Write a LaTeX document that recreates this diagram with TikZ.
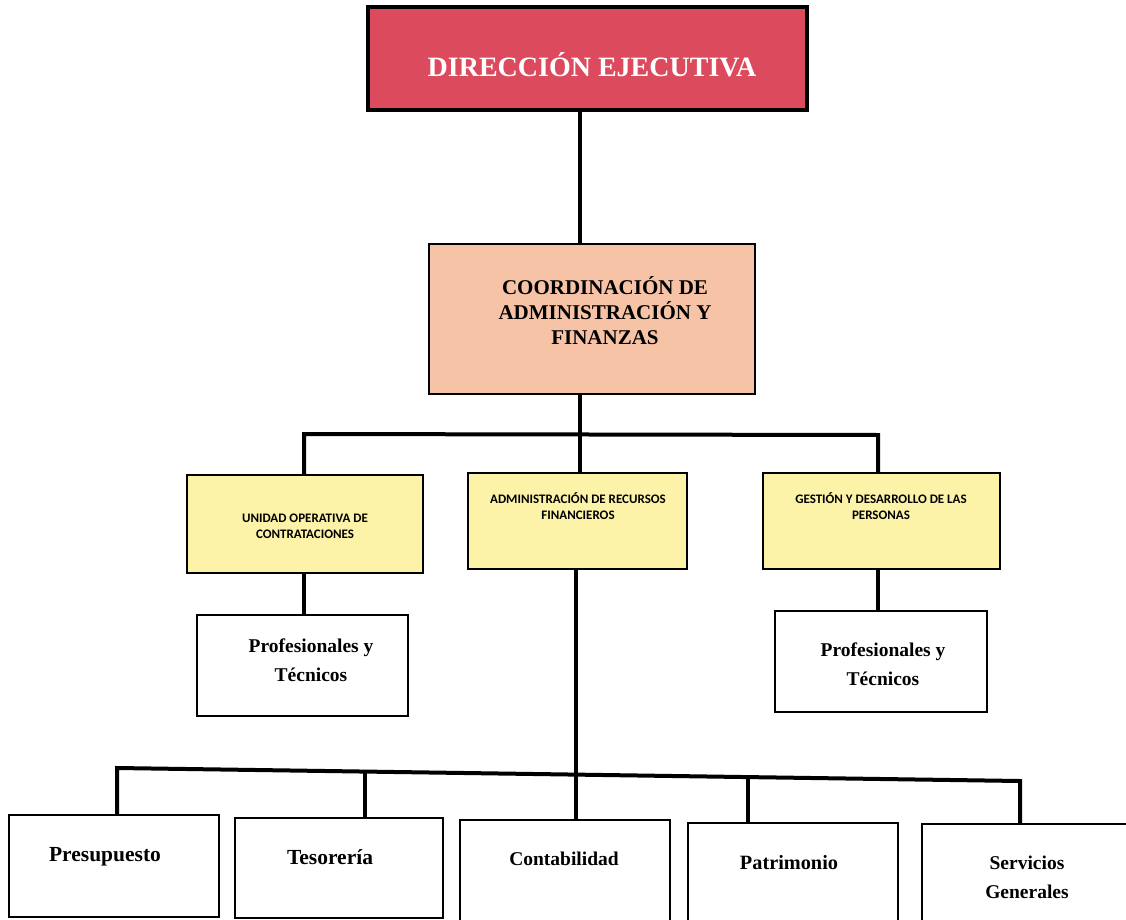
\documentclass[tikz,border=0pt]{standalone}
\usepackage{fontspec}
\setmainfont{Liberation Serif}
\newfontfamily\calfont{Carlito}
\definecolor{dirred}{HTML}{DC4A5E}
\definecolor{peach}{HTML}{F7C3A6}
\definecolor{paleyellow}{HTML}{FCF2A8}
\begin{document}
\begin{tikzpicture}[x=1pt,y=-1pt,
  box/.style={draw=black, line width=2.2pt, inner sep=0pt, rectangle},
  conn/.style={draw=black, line width=4pt, line join=miter},
  serlbl/.style={font=\bfseries\fontsize{19.5}{29}\selectfont, align=center, inner sep=0pt},
  biglbl/.style={font=\bfseries\fontsize{21.5}{29}\selectfont, align=center, inner sep=0pt},
  callbl/.style={font=\calfont\bfseries\fontsize{13}{16.5}\selectfont, align=center, inner sep=0pt}]
\useasboundingbox[fill=white] (0,0) rectangle (1126,920);

% boxes
\node[box, line width=4.5pt, fill=dirred, minimum width=439pt, minimum height=103pt] (dir) at (587.5,58.5) {};
\node[box, fill=peach, minimum width=326pt, minimum height=150pt] (coord) at (592,319) {};
\node[box, fill=paleyellow, minimum width=236pt, minimum height=98pt] (y1) at (305,524) {};
\node[box, fill=paleyellow, minimum width=219pt, minimum height=96pt] (y2) at (577.5,521) {};
\node[box, fill=paleyellow, minimum width=237pt, minimum height=96pt] (y3) at (881.5,521) {};
\node[box, minimum width=211pt, minimum height=101pt] (p1) at (302.5,665.5) {};
\node[box, minimum width=212pt, minimum height=101pt] (p2) at (881,661.5) {};
\node[box, minimum width=210pt, minimum height=102pt] (b1) at (114,866) {};
\node[box, minimum width=208pt, minimum height=100pt] (b2) at (339,868) {};
\node[box, minimum width=210pt, minimum height=104pt] (b3) at (565,872) {};
\node[box, minimum width=210pt, minimum height=101pt] (b4) at (793,873.5) {};
\node[box, minimum width=210pt, minimum height=100pt] (b5) at (1027,874) {};

% texts
\node[font=\bfseries\fontsize{28}{30}\selectfont, text=white, inner sep=0pt] (tdir) at (592,65) {DIRECCIÓN EJECUTIVA};
\node[font=\bfseries\fontsize{21}{25}\selectfont, align=center, inner sep=0pt] (tcoord) at (605,311) {COORDINACIÓN DE\\ADMINISTRACIÓN Y\\FINANZAS};
\node[callbl] (ty1) at (305,526.5) {UNIDAD OPERATIVA DE\\CONTRATACIONES};
\node[callbl] (ty2) at (578,506) {ADMINISTRACIÓN DE RECURSOS\\FINANCIEROS};
\node[callbl] (ty3) at (881,506) {GESTIÓN Y DESARROLLO DE LAS\\PERSONAS};
\node[serlbl] (tp1) at (311,660) {Profesionales y\\Técnicos};
\node[serlbl] (tp2) at (883,664) {Profesionales y\\Técnicos};
\node[biglbl] (tb1) at (105,857) {Presupuesto};
\node[biglbl] (tb2) at (330,857) {Tesorería};
\node[serlbl] (tb3) at (564,859) {Contabilidad};
\node[font=\bfseries\fontsize{20.3}{29}\selectfont, inner sep=0pt] (tb4) at (789,863) {Patrimonio};
\node[serlbl] (tb5) at (1027,877.5) {Servicios\\Generales};

% connector coordinates
\coordinate (s0) at (580,0);
\coordinate (ta) at (304,434);
\coordinate (tm) at (580,434);
\coordinate (tb) at (878,435);
\coordinate (sm) at (576,0);
\coordinate (k1) at (117,768);
\coordinate (k2) at (365,771);
\coordinate (k4) at (748,777);
\coordinate (k5) at (1020,781);

% connectors
\draw[conn] (s0 |- dir.south) -- (s0 |- coord.north);
\draw[conn] (s0 |- coord.south) -- (tm);
\draw[conn] (ta |- y1.north) -- (ta) -- (tb) -- (tb |- y3.north);
\draw[conn] (tm) -- (tm |- y2.north);
\draw[conn] (ta |- y1.south) -- (ta |- p1.north);
\draw[conn] (tb |- y3.south) -- (tb |- p2.north);
\draw[conn] (sm |- y2.south) -- (sm |- b3.north);
\draw[conn] (k1 |- b1.north) -- (k1) -- (k5) -- (k5 |- b5.north);
\draw[conn] (k2) -- (k2 |- b2.north);
\draw[conn] (k4) -- (k4 |- b4.north);
\end{tikzpicture}
\end{document}
